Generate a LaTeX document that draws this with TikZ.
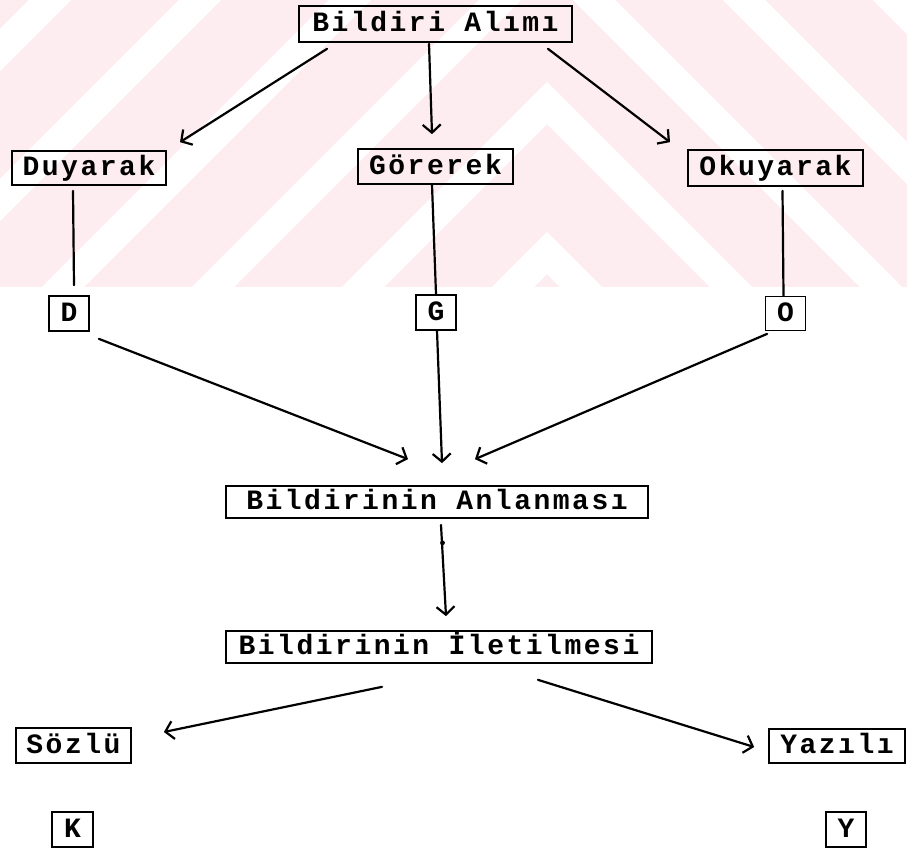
\documentclass[tikz,border=0pt]{standalone}
\usepackage{fontspec}
\usetikzlibrary{arrows.meta,calc}
\newfontfamily\lblfam[LetterSpace=9]{Liberation Mono}
\newcommand\lblfont{\lblfam\bfseries\fontsize{28pt}{28pt}\selectfont}
\definecolor{wm}{RGB}{253,236,240}
\tikzset{
  box/.style={draw, line width=1.7pt, inner sep=0pt, minimum height=34pt,
    text height=18pt, text depth=3pt, font=\lblfont},
  conn/.style={line width=2.2pt, line cap=round},
  arr/.style={conn, -{Straight Barb[length=8pt,width=18pt]}},
}
\begin{document}
\begin{tikzpicture}[x=1pt,y=-1pt]
\useasboundingbox (0,0) rectangle (907,848);
% faint watermark band
\begin{scope}
  \clip (0,0) rectangle (907,287);
  \fill[wm] (0,0) rectangle (907,287);
  \foreach \m in {-250,-100,...,1250}{
    \draw[white, line width=30pt, line join=miter]
      ({-300},{\m+300}) -- ({547},{\m-547}) -- ({1400},{\m+306});
  }
\end{scope}
% nodes
\node[box, minimum width=273pt, minimum height=36pt] (A)  at (435.5,24)  {Bildiri Alımı};
\node[box, minimum width=154pt] (Du) at (89,168)    {Duyarak};
\node[box, minimum width=155pt, minimum height=35pt] (Go) at (435.5,166.5) {Görerek};
\node[box, minimum width=175pt, minimum height=36pt] (Ok) at (775.5,168) {Okuyarak};
\node[box, minimum width=40pt, minimum height=35pt] (D) at (69,313.5)  {D};
\node[box, minimum width=40pt, minimum height=35pt] (G) at (436,312.5) {G};
\node[box, minimum width=40pt] (O) at (785.5,313.5) {O};
\node[box, minimum width=422pt, minimum height=32pt] (An) at (437,502) {Bildirinin Anlanması};
\node[box, minimum width=426pt, minimum height=32pt] (Il) at (439,647) {Bildirinin İletilmesi};
\node[box, minimum width=115pt, minimum height=35pt] (So) at (73.5,745.5) {Sözlü};
\node[box, minimum width=136pt] (Ya) at (837,746) {Yazılı};
\node[box, minimum width=41pt, minimum height=35pt] (K) at (72.5,829.5) {K};
\node[box, minimum width=40pt, minimum height=35pt] (Y) at (846,829.5) {Y};
% connectors
\draw[arr] ($(A.south)+(-108.5,6)$) -- ($(Du.north)+(91,-8)$);
\draw[arr] ($(A.south)+(-6.5,1)$) -- ($(Go.north)+(-3.5,-14)$);
\draw[arr] ($(A.south)+(112.5,6)$) -- ($(Ok.north)+(-105.5,-7)$);
\draw[conn] ($(Du.south)+(-16,5)$) -- ($(D.north)+(5,-10)$);
\draw[conn] ($(Go.south)+(-3.5,0)$) -- (G.north);
\draw[conn] ($(Ok.south)+(7,4)$) -- ($(O.north)+(-2,0)$);
\draw[arr] ($(D.south east)+(9,7)$) -- ($(An.north)+(-29,-26)$);
\draw[arr] ($(G.south)+(1,0)$) -- ($(An.north)+(5,-22)$);
\draw[arr] ($(O.south west)+(2.5,2.5)$) -- ($(An.north)+(38,-26)$);
\draw[arr] ($(An.south)+(4,6)$) -- ($(Il.north)+(7,-14)$);
\fill ($(An.south)+(5.5,24)$) circle[radius=2.4pt];
\draw[arr] ($(Il.south)+(-57,23)$) -- ($(So.east)+(32,-13.5)$);
\draw[arr] ($(Il.south)+(99,16)$) -- ($(Ya.west)+(-14,1)$);
\end{tikzpicture}
\end{document}
